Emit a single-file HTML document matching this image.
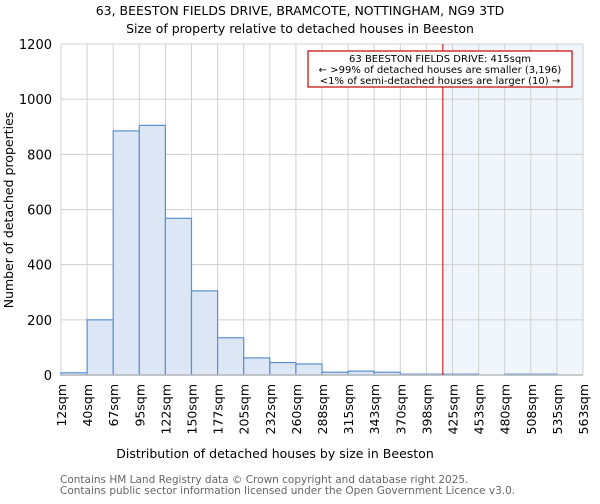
<!DOCTYPE html>
<html><head><meta charset="utf-8"><style>
body{margin:0;background:#fff;font-family:"DejaVu Sans","Liberation Sans",sans-serif}
svg text{font-family:"DejaVu Sans","Liberation Sans",sans-serif}
</style></head><body>
<svg id="c" width="600" height="500" xmlns="http://www.w3.org/2000/svg">
<text x="300" y="15" text-anchor="middle" font-size="12.5">63, BEESTON FIELDS DRIVE, BRAMCOTE, NOTTINGHAM, NG9 3TD</text>
<text x="300" y="33" text-anchor="middle" font-size="12.5">Size of property relative to detached houses in Beeston</text>
<g id="grid"></g><g id="bars"></g><g id="ax"></g>
<text x="275" y="458" text-anchor="middle" font-size="12.5">Distribution of detached houses by size in Beeston</text>
<text transform="translate(13,210) rotate(-90)" text-anchor="middle" font-size="12.5">Number of detached properties</text>
<text x="60" y="483" font-size="10.5" fill="#666">Contains HM Land Registry data © Crown copyright and database right 2025.</text>
<text x="60" y="494" font-size="10.5" fill="#666">Contains public sector information licensed under the Open Government Licence v3.0.</text>
</svg>
<script>
const binEdges=[12,40,67,95,122,150,177,205,232,260,288,315,343,370,398,425,453,480,508,535,563];
const counts=[8,200,885,905,568,305,135,62,45,40,10,14,10,3,3,3,0,3,3,0];
const yTicks=[0,200,400,600,800,1000,1200];
const subjectSize=415;
const NS="http://www.w3.org/2000/svg";
const L=61,R=583,T=44,B=375,YMAX=1200,N=counts.length;
function xIdx(i){return L+(R-L)*i/N;}
function xVal(v){for(let i=0;i<N;i++){if(v<=binEdges[i+1]){return xIdx(i)+(v-binEdges[i])/(binEdges[i+1]-binEdges[i])*(R-L)/N;}}return R;}
function y(v){return B-(B-T)*v/YMAX;}
function mk(p,t,a){const e=document.createElementNS(NS,t);for(const k in a)e.setAttribute(k,a[k]);p.appendChild(e);return e;}
const g=document.getElementById('grid'),b=document.getElementById('bars'),ax=document.getElementById('ax');
const sx=xVal(subjectSize);
const sh=mk(g,'rect',{x:sx,y:T,width:R-sx,height:B-T,fill:'#eef2fb',opacity:0.8});


for(let i=0;i<=N;i++){const l=mk(g,'line',{x1:xIdx(i),x2:xIdx(i),y1:T,y2:B,stroke:'#d0d0d0'});

}
yTicks.forEach(v=>{const l=mk(g,'line',{x1:L,x2:R,y1:y(v),y2:y(v),stroke:'#d0d0d0'});


const t=mk(ax,'text',{x:L-9,y:y(v)+5,'text-anchor':'end','font-size':13});t.textContent=v;

});
counts.forEach((c,i)=>{const r=mk(b,'rect',{x:xIdx(i),y:y(c),width:(R-L)/N,height:B-y(c),fill:'#dce6f4',stroke:'#5b8fd6','stroke-width':1.2});

});
binEdges.forEach((e,i)=>{const t=mk(ax,'text',{transform:`translate(${xIdx(i)+5},384) rotate(-90)`,'text-anchor':'end','font-size':12.5});t.textContent=e+'sqm';

});
const bl=mk(ax,'line',{x1:L,x2:R,y1:B,y2:B,stroke:'#bbb','stroke-width':1.5});


const rl=mk(ax,'line',{x1:sx,x2:sx,y1:T,y2:B,stroke:'#cc0000','stroke-width':1});


const bx=mk(ax,'rect',{x:308,y:51,width:264,height:36,fill:'#fff',stroke:'#cc0000','stroke-width':1.2});


['63 BEESTON FIELDS DRIVE: 415sqm','← >99% of detached houses are smaller (3,196)','<1% of semi-detached houses are larger (10) →'].forEach((s,i)=>{const t=mk(ax,'text',{x:440,y:62+i*11,'text-anchor':'middle','font-size':10});t.textContent=s;

});
</script>
</body></html>
